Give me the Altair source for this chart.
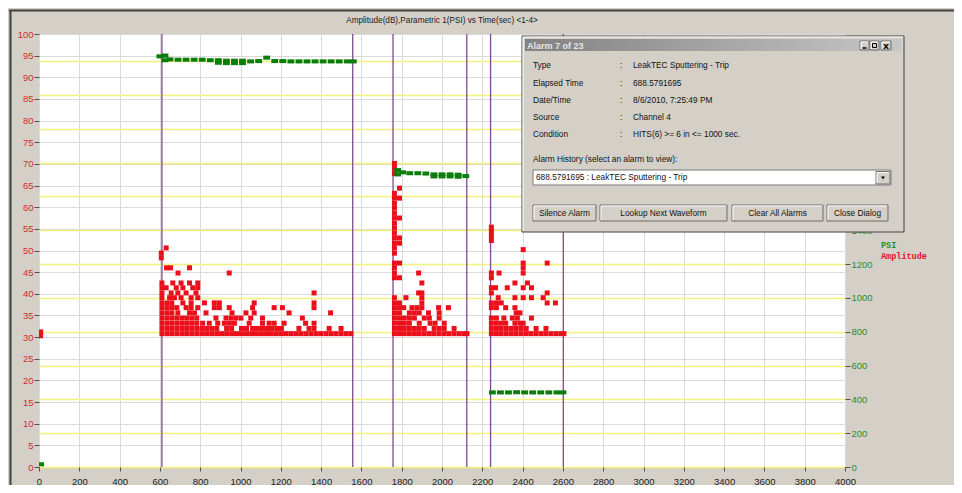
import altair as alt
import pandas as pd

# ---------------- data ----------------
CHART_TITLE = "Amplitude(dB),Parametric 1(PSI) vs Time(sec) <1-4>"
x_tick_values = list(range(0, 4001, 200))
amp_tick_values = list(range(0, 101, 5))
psi_tick_values = list(range(0, 2401, 200))

hit_marker_times = [610, 1557, 1757, 2123, 2241, 2602]

# amplitude hits: (amplitude dB, [times s])
amp_rows_start = [(31.2, [8]), (30.3, [8])]
amp_rows_hit1 = [
    (30.8, [610, 635, 659, 684, 709, 733, 758, 783, 808, 832, 857, 882, 906, 931, 956, 980, 1005, 1030, 1055,
            1079, 1104, 1129, 1153, 1178, 1203, 1227, 1252, 1277, 1301, 1326, 1351, 1376, 1400, 1425, 1450,
            1474, 1499, 1524, 1548]),
    (32.0, [610, 635, 659, 684, 709, 733, 758, 783, 808, 832, 857, 882, 931, 956, 1005, 1030, 1060, 1084, 1109,
            1134, 1158, 1183, 1203, 1290, 1340, 1365, 1440, 1499]),
    (33.2, [610, 635, 659, 684, 709, 733, 758, 783, 812, 845, 887, 920, 945, 970, 1043, 1109, 1142, 1167, 1216,
            1323, 1365]),
    (34.4, [610, 635, 659, 684, 709, 733, 758, 783, 878, 928, 953, 977, 1002, 1051, 1109, 1307]),
    (35.6, [610, 635, 659, 689, 747, 772, 829, 958, 1027, 1068, 1241, 1447]),
    (36.8, [610, 635, 659, 684, 730, 755, 788, 870, 895, 944, 1060, 1167, 1208, 1365]),
    (37.9, [610, 635, 659, 714, 755, 821, 870, 895, 1068, 1365]),
    (39.1, [610, 648, 672, 705, 755, 788]),
    (40.2, [610, 656, 689, 730, 779, 1365]),
    (41.4, [610, 631, 681, 714, 763, 788]),
    (42.5, [610, 664, 705, 747, 788]),
    (44.8, [690, 944]),
    (46.0, [633, 653, 747]),
    (48.3, [607]),
    (49.4, [607]),
    (50.6, [631]),
]
amp_rows_hit2 = [
    (30.8, [1764, 1789, 1813, 1838, 1863, 1887, 1912, 1937, 1961, 1986, 2011, 2035, 2060, 2085, 2109, 2124]),
    (32.0, [1764, 1789, 1813, 1838, 1863, 1887, 1912, 1961, 1986, 2011, 2060]),
    (33.2, [1764, 1789, 1813, 1838, 1887, 1941, 1966, 2011]),
    (34.4, [1764, 1789, 1813, 1838, 1863, 1912, 1937, 1986]),
    (35.6, [1764, 1789, 1838, 1863, 1887, 1933, 1986]),
    (36.8, [1764, 1789, 1810, 1851, 1876, 1900, 1983, 2032]),
    (37.9, [1764, 1789, 1900]),
    (39.1, [1764, 1821, 1900]),
    (40.2, [1884, 1900]),
    (42.5, [1900]),
    (43.7, [1764, 1789]),
    (44.8, [1764, 1884]),
    (46.0, [1764]),
    (47.1, [1764, 1789]),
    (49.4, [1764]),
    (50.6, [1764]),
    (51.7, [1764, 1789]),
    (52.9, [1764, 1789]),
    (54.0, [1764]),
    (55.2, [1764]),
    (56.3, [1764]),
    (57.5, [1764, 1789]),
    (58.6, [1764]),
    (59.8, [1764]),
    (60.9, [1764]),
    (62.1, [1764, 1789]),
    (63.2, [1764]),
    (64.4, [1789]),
    (67.8, [1764]),
    (69.0, [1764]),
    (70.1, [1764]),
]
amp_rows_hit3 = [
    (30.8, [2245, 2270, 2294, 2319, 2344, 2368, 2393, 2418, 2442, 2467, 2492, 2516, 2541, 2566, 2590, 2605]),
    (32.0, [2245, 2270, 2294, 2319, 2344, 2368, 2393, 2418, 2467, 2516]),
    (33.2, [2245, 2270, 2294, 2316, 2362, 2387, 2403]),
    (34.4, [2245, 2270, 2307, 2349, 2374, 2444]),
    (35.6, [2368, 2387]),
    (36.8, [2245, 2270, 2316, 2362]),
    (37.9, [2245, 2270, 2294, 2522, 2563]),
    (39.1, [2279, 2362, 2403, 2444, 2502]),
    (40.2, [2245, 2522]),
    (41.4, [2245, 2266, 2324, 2403, 2444]),
    (42.5, [2362, 2424]),
    (43.7, [2245]),
    (44.8, [2245, 2283, 2403]),
    (46.0, [2403]),
    (47.1, [2403, 2522]),
    (50.2, [2403]),
    (52.3, [2245]),
    (53.4, [2245]),
    (54.4, [2245]),
    (55.4, [2245]),
]

# parametric (PSI) samples
psi_times_start = [8]
psi_values_start = [16]
psi_times_hit1 = [600, 625, 625, 650, 690, 730, 770, 810, 850, 890, 890, 930, 930, 970, 970, 1010, 1010,
                  1050, 1090, 1130, 1170, 1210, 1250, 1290, 1330, 1370, 1410, 1450, 1490, 1530, 1560]
psi_values_hit1 = [2428, 2432, 2405, 2410, 2408, 2408, 2408, 2408, 2405, 2405, 2390, 2402, 2388, 2402, 2388,
                   2402, 2388, 2398, 2400, 2420, 2400, 2400, 2398, 2398, 2398, 2398, 2398, 2398, 2398, 2398, 2398]
psi_times_hit2 = [1780, 1780, 1805, 1840, 1880, 1920, 1960, 1960, 2000, 2000, 2040, 2040, 2080, 2080, 2118]
psi_values_hit2 = [1755, 1730, 1742, 1737, 1737, 1735, 1730, 1718, 1730, 1718, 1730, 1718, 1728, 1716, 1720]
psi_times_hit3 = [2250, 2290, 2330, 2370, 2410, 2450, 2490, 2530, 2570, 2600]
psi_values_hit3 = [441, 441, 441, 442, 441, 441, 441, 441, 441, 441]

legend_labels = ["PSI", "Amplitude"]

dialog_title = "Alarm 7 of 23"
dialog_fields = [
    ("Type", "LeakTEC Sputtering - Trip"),
    ("Elapsed Time", "688.5791695"),
    ("Date/Time", "8/6/2010, 7:25:49 PM"),
    ("Source", "Channel 4"),
    ("Condition", "HITS(6) >= 6  in <= 1000 sec."),
]
dialog_history_label = "Alarm History (select an alarm to view):"
dialog_history_value = "688.5791695 : LeakTEC Sputtering - Trip"
dialog_buttons = ["Silence Alarm", "Lookup Next Waveform", "Clear All Alarms", "Close Dialog"]

# ---------------- tables ----------------
red_df = pd.DataFrame(
    [{"t": t, "amp": a}
     for rows in (amp_rows_start, amp_rows_hit1, amp_rows_hit2, amp_rows_hit3)
     for a, ts in rows for t in ts]
)
green_df = pd.DataFrame({
    "t": psi_times_start + psi_times_hit1 + psi_times_hit2 + psi_times_hit3,
    "psi": psi_values_start + psi_values_hit1 + psi_values_hit2 + psi_values_hit3,
})
marker_df = pd.DataFrame({"t": hit_marker_times})
one = pd.DataFrame({"k": [0]})

# ---------------- style ----------------
FONT = "Liberation Sans, Arial, sans-serif"
UI_FONT = "Liberation Sans, Arial, sans-serif"
UI_SIZE = 8.3
RED = "#EA0F1A"
GREEN = "#0B7D0B"
PURPLE = "#7E4A92"
PANEL = "#D4D0C8"
W, H = 806, 433
OX, OY = 39, 34  # page position of the plot origin (layout only)

xscale = alt.Scale(domain=[0, 4000], nice=False, zero=False)
x_axis = alt.Axis(values=x_tick_values, grid=True, gridColor="#DADADA", tickSize=4, tickColor="#505050",
                  labelColor="#1E1E1E", labelFont=FONT, labelFontSize=9.5, labelPadding=5, domain=False,
                  title=None, labelFlush=False, labelOverlap=False, format="d")
left_axis = alt.Axis(values=amp_tick_values, grid=True, gridColor="#DADADA", tickSize=5, tickColor="#505050",
                     labelColor="#D42A2A", labelFont=FONT, labelFontSize=9.5, labelPadding=1, domain=False,
                     title=None, labelOverlap=False, format="d")
right_axis = alt.Axis(orient="right", values=psi_tick_values, grid=True, gridColor="#F2F27A", gridWidth=1.3,
                      tickSize=5, tickColor="#505050", labelColor="#2D8A2D", labelFont=FONT,
                      labelFontSize=9.5, labelPadding=1, domain=False, title=None, labelOverlap=False,
                      format="d", zindex=0)

markers = alt.Chart(marker_df).mark_rule(color=PURPLE, strokeWidth=1.3).encode(
    x=alt.X("t:Q", scale=xscale, axis=x_axis)
)
red = alt.Chart(red_df).mark_square(size=25, opacity=1, color=RED, clip=True).encode(
    x=alt.X("t:Q", scale=xscale, axis=x_axis),
    y=alt.Y("amp:Q", scale=alt.Scale(domain=[0, 100], nice=False, zero=True), axis=left_axis),
)
green = alt.Chart(green_df).transform_calculate(
    t0="datum.t - 17", t1="datum.t + 17", p0="datum.psi - 12", p1="datum.psi + 12"
).mark_rect(color=GREEN, clip=True).encode(
    x=alt.X("t0:Q", scale=xscale, axis=x_axis),
    x2="t1:Q",
    y=alt.Y("p0:Q", scale=alt.Scale(domain=[0, 2560], nice=False, zero=True), axis=right_axis),
    y2="p1:Q",
)


# ---------------- decoration helpers (page coordinates) ----------------
def box(x0, y0, x1, y1, fill, stroke=None, sw=1.0):
    kw = dict(fill=fill)
    if stroke:
        kw.update(stroke=stroke, strokeWidth=sw)
    return alt.Chart(one).mark_rect(**kw).encode(
        x=alt.value(x0 - OX), x2=alt.value(x1 - OX), y=alt.value(y0 - OY), y2=alt.value(y1 - OY))


def hline(x0, x1, y, color, sw=1.0):
    return alt.Chart(one).mark_rule(color=color, strokeWidth=sw).encode(
        x=alt.value(x0 - OX), x2=alt.value(x1 - OX), y=alt.value(y - OY))


def vline(x, y0, y1, color, sw=1.0):
    return alt.Chart(one).mark_rule(color=color, strokeWidth=sw).encode(
        x=alt.value(x - OX), y=alt.value(y0 - OY), y2=alt.value(y1 - OY))


def label(x, y, text, size=UI_SIZE, color="#111111", align="left", weight="normal", font=UI_FONT):
    return alt.Chart(one).mark_text(align=align, baseline="middle", fontSize=size, color=color,
                                    font=font, fontWeight=weight).encode(
        x=alt.value(x - OX), y=alt.value(y - OY), text=alt.value(text))


def button(x0, y0, x1, y1, text=None, size=UI_SIZE):
    parts = [box(x0, y0, x1, y1, PANEL, "#6A6A6A", 1),
             hline(x0 + 1, x1 - 1, y0 + 1, "#FFFFFF"),
             vline(x0 + 1, y0 + 1, y1 - 1, "#FFFFFF")]
    if text:
        parts.append(label((x0 + x1) / 2, (y0 + y1) / 2 + 0.5, text, size=size, align="center"))
    return parts


deco = []
# panel frame
deco += [hline(9, 962, 10.5, "#404040", 2), vline(10.5, 10, 493, "#404040", 2)]
# chart title
deco.append(label(OX + W / 2, 21, CHART_TITLE, size=8.2, color="#1A1A1A", align="center", font=FONT))
# legend
deco.append(label(881, 244.5, legend_labels[0], size=8.5, color="#1F8F1F", weight="bold",
                  font="Liberation Mono, Courier New, monospace"))
deco.append(label(881, 256, legend_labels[1], size=8.5, color="#E0102A", weight="bold",
                  font="Liberation Mono, Courier New, monospace"))

# dialog
deco += [box(522, 36, 904, 232, PANEL, "#404040", 1),
         hline(523, 903, 37, "#FFFFFF"), vline(523, 37, 231, "#FFFFFF")]
deco.append(alt.Chart(one).mark_rect(fill=alt.Gradient(
    gradient="linear", x1=0, x2=1, y1=0, y2=0,
    stops=[alt.GradientStop(color="#828282", offset=0), alt.GradientStop(color="#C6C6C6", offset=1)])).encode(
    x=alt.value(525 - OX), x2=alt.value(901 - OX), y=alt.value(39 - OY), y2=alt.value(51 - OY)))
deco.append(label(527, 45.5, dialog_title, size=9, color="#E6E6E6", weight="bold"))
deco += button(860, 41, 869, 50)
deco += button(870, 41, 879, 50)
deco += button(881, 41, 891, 50)
deco.append(hline(862.5, 866.5, 48, "#000000", 1.5))
deco.append(box(872.5, 43.5, 876.5, 47.5, "none", "#000000", 1))
deco.append(label(886, 45.5, "x", size=9.5, weight="bold", align="center", font="DejaVu Sans"))

field_rows_y = [66, 83.5, 100.5, 118, 135]
for (name, value), yy in zip(dialog_fields, field_rows_y):
    deco.append(label(533, yy, name))
    deco.append(label(620, yy, ":"))
    deco.append(label(633, yy, value))
deco.append(label(533, 160, dialog_history_label))
deco += [box(533, 170, 891, 185, "#FFFFFF", "#7A7A7A", 1)]
deco.append(label(536, 177.5, dialog_history_value))
deco += button(876, 171.5, 890, 184)
deco.append(alt.Chart(one).mark_point(shape="triangle-down", filled=True, size=14, color="#000000",
                                      opacity=1).encode(x=alt.value(883 - OX), y=alt.value(178 - OY)))
button_spans = [(533, 596), (600, 727), (732, 823), (827, 888)]
for text, (a, b) in zip(dialog_buttons, button_spans):
    deco += button(a, 205, b, 221, text)

chart = alt.layer(markers, red, green, *deco).resolve_scale(y="independent").properties(
    width=W, height=H,
    padding={"left": OX - 8, "top": OY - 8, "right": 946 - (OX - 8) - W, "bottom": 477 - (OY - 8) - H},
    autosize=alt.AutoSizeParams(type="none"),
).configure(background=PANEL).configure_view(fill="white", stroke="#A0A0A0", strokeWidth=1)

chart.save("out.html", embed_options={"renderer": "svg", "actions": False})
